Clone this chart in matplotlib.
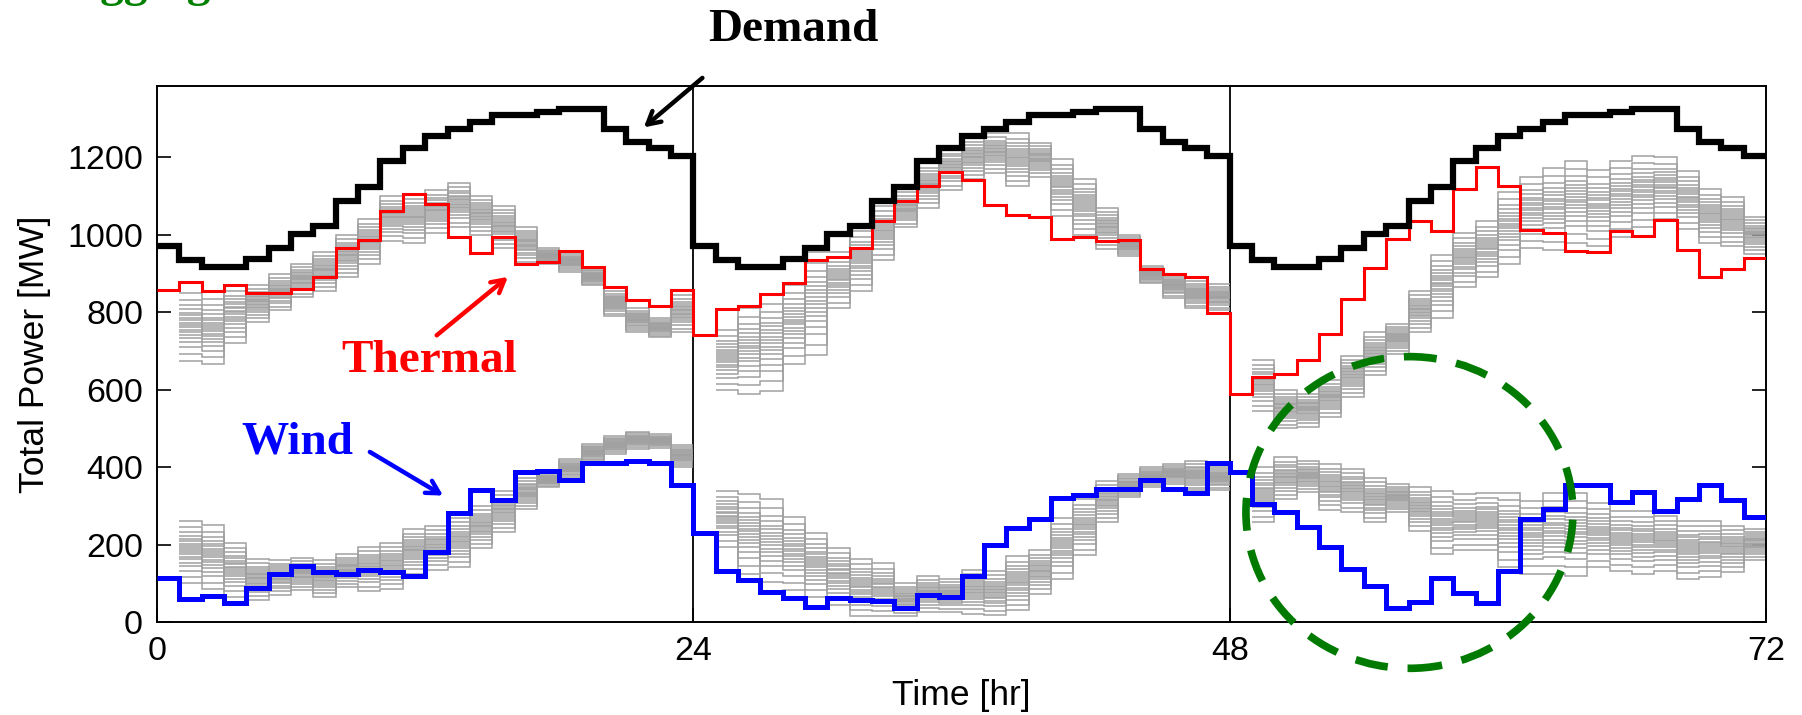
import numpy as np
import matplotlib.pyplot as plt
from matplotlib.patches import Ellipse

plt.rcParams['font.family'] = ['Liberation Sans', 'DejaVu Sans']

# hourly values, 72 hours (3 days)
demand = [970, 935, 918, 918, 938, 965, 1002, 1022, 1088, 1123, 1190, 1224,
          1256, 1273, 1292, 1309, 1309, 1318, 1326, 1326, 1273, 1240, 1224, 1204,
          970, 935, 918, 918, 938, 965, 1002, 1022, 1088, 1123, 1190, 1224,
          1256, 1273, 1292, 1309, 1309, 1318, 1326, 1326, 1273, 1240, 1224, 1204,
          970, 935, 918, 918, 938, 965, 1002, 1022, 1088, 1123, 1190, 1224,
          1256, 1273, 1292, 1309, 1309, 1318, 1326, 1326, 1273, 1240, 1224, 1204]
thermal = [858, 879, 856, 871, 849, 849, 860, 892, 965, 987, 1062, 1105,
           1080, 994, 952, 994, 925, 929, 959, 916, 866, 832, 815, 858,
           742, 809, 815, 846, 875, 934, 944, 966, 1035, 1088, 1125, 1163,
           1142, 1078, 1051, 1045, 990, 994, 985, 987, 912, 899, 892, 798,
           589, 634, 640, 678, 744, 835, 915, 990, 1037, 1011, 1119, 1176,
           1125, 1013, 1004, 959, 955, 1009, 996, 1039, 961, 892, 912, 939]
wind = [115, 60, 66, 48, 89, 125, 146, 129, 125, 135, 129, 120,
        181, 281, 342, 316, 387, 391, 368, 410, 410, 415, 412, 353,
        230, 133, 109, 77, 63, 39, 63, 58, 54, 36, 69, 65,
        120, 200, 244, 267, 321, 327, 344, 344, 366, 344, 333, 410,
        387, 306, 284, 245, 194, 138, 92, 35, 52, 115, 75, 48,
        133, 267, 293, 353, 355, 310, 335, 288, 318, 353, 314, 271]

# scenario envelopes, hours 1-23 of each day
therm_lo = [675, 667, 720, 775, 805, 840, 856, 890, 925, 985, 980, 1006, 1020, 1000, 965, 930, 925, 905, 870, 790, 748, 735, 748,
            600, 590, 598, 667, 690, 810, 855, 935, 1020, 1070, 1115, 1145, 1160, 1125, 1150, 1050, 1000, 964, 945, 875, 837, 810, 805,
            545, 500, 505, 530, 580, 637, 693, 750, 786, 865, 890, 925, 965, 960, 980, 970, 995, 1020, 1040, 1015, 980, 970, 950]
therm_hi = [850, 835, 870, 870, 898, 925, 955, 1000, 1040, 1100, 1105, 1115, 1135, 1100, 1075, 1020, 965, 955, 910, 855, 810, 785, 845,
            755, 810, 845, 870, 955, 955, 1010, 1075, 1110, 1185, 1230, 1250, 1262, 1262, 1238, 1195, 1145, 1070, 1000, 920, 898, 880, 872,
            678, 600, 590, 625, 688, 748, 770, 854, 948, 1005, 1035, 1110, 1150, 1172, 1190, 1168, 1192, 1203, 1200, 1165, 1118, 1098, 1047]
wind_lo = [100, 85, 65, 58, 70, 82, 65, 90, 80, 85, 125, 135, 142, 190, 232, 292, 348, 370, 413, 434, 447, 450, 400,
           195, 125, 80, 82, 65, 45, 15, 15, 15, 26, 26, 22, 18, 30, 73, 112, 172, 258, 322, 348, 357, 340, 340,
           258, 318, 335, 290, 284, 258, 284, 236, 176, 185, 185, 142, 125, 125, 120, 142, 133, 125, 133, 112, 116, 129, 159]
wind_hi = [262, 250, 205, 162, 160, 165, 160, 175, 195, 205, 240, 248, 270, 300, 338, 372, 385, 420, 460, 480, 492, 485, 458,
           338, 332, 318, 272, 230, 192, 164, 152, 100, 118, 112, 135, 132, 170, 185, 270, 318, 365, 383, 400, 408, 415, 404,
           400, 425, 415, 408, 395, 372, 356, 348, 338, 330, 334, 334, 312, 334, 334, 308, 288, 288, 275, 262, 262, 249, 241]
# position of each scenario inside the envelope
scen_frac = [0.0, 0.1, 0.2, 0.27, 0.33, 0.38, 0.42, 0.46, 0.5, 0.53,
             0.56, 0.6, 0.63, 0.67, 0.71, 0.76, 0.82, 0.9, 1.0]

xticks = [0, 24, 48, 72]
yticks = [0, 200, 400, 600, 800, 1000, 1200]

fig = plt.figure(figsize=(18.02, 7.15), dpi=100)
ax = fig.add_axes([0.0871, 0.130, 0.893, 0.750])

edges = np.arange(73)
gray = '#a0a0a0'
for lo, hi in [(therm_lo, therm_hi), (wind_lo, wind_hi)]:
    lo = np.array(lo, dtype=float)
    hi = np.array(hi, dtype=float)
    for d in range(3):
        e = np.arange(24 * d + 1, 24 * d + 25)
        l = lo[23 * d:23 * d + 23]
        h = hi[23 * d:23 * d + 23]
        for f in scen_frac:
            ax.stairs(l + f * (h - l), e, baseline=None, color=gray, lw=1.1, zorder=2)

ax.stairs(thermal, edges, baseline=None, color='#ff0000', lw=2.2, zorder=3)
ax.stairs(wind, edges, baseline=None, color='#0000ff', lw=3.6, zorder=4)
ax.stairs(demand, edges, baseline=None, color='black', lw=4.5, zorder=5)

for xv in [24, 48]:
    ax.axvline(xv, color='black', lw=1.3, zorder=1)

ax.set_xlim(0, 72)
ax.set_ylim(0, 1385)
ax.set_xticks(xticks)
ax.set_yticks(yticks)
ax.tick_params(direction='in', right=True, length=10, width=1.2, labelsize=24.5, pad=10)
for s in ax.spines.values():
    s.set_linewidth(1.4)
ax.set_xlabel('Time [hr]', fontsize=25.5, labelpad=9)
ax.set_ylabel('Total Power [MW]', fontsize=25.5, labelpad=12)

serif = ['Liberation Serif', 'DejaVu Serif']
head = '->,head_length=0.9,head_width=0.5'
ax.annotate('', xy=(21.69, 1273), xytext=(24.5, 1410),
            arrowprops=dict(arrowstyle=head, color='black', lw=3.2),
            annotation_clip=False)
ax.text(28.46, 1530, 'Demand', family=serif, fontweight='bold', fontsize=34,
        ha='center', va='center', color='black', clip_on=False)
ax.annotate('', xy=(15.8, 896), xytext=(12.42, 736),
            arrowprops=dict(arrowstyle=head, color='#ff0000', lw=3.2))
ax.text(12.2, 673, 'Thermal', family=serif, fontweight='bold', fontsize=34,
        ha='center', va='center', color='#ff0000')
ax.annotate('', xy=(12.91, 323), xytext=(9.42, 443),
            arrowprops=dict(arrowstyle=head, color='#0000ff', lw=3.2))
ax.text(6.29, 464, 'Wind', family=serif, fontweight='bold', fontsize=34,
        ha='center', va='center', color='#0000ff')

ax.add_patch(Ellipse((56.04, 283), 14.63, 805, fill=False, edgecolor='#007a00',
                     lw=5.5, linestyle=(0, (4.3, 2.6)), clip_on=False, zorder=6))

fig.text(0.025, 1.006, 'Lagging', family=serif, fontweight='bold', fontsize=34,
         color='#008000', ha='left', va='baseline')

fig.savefig('out.png', dpi=100)
